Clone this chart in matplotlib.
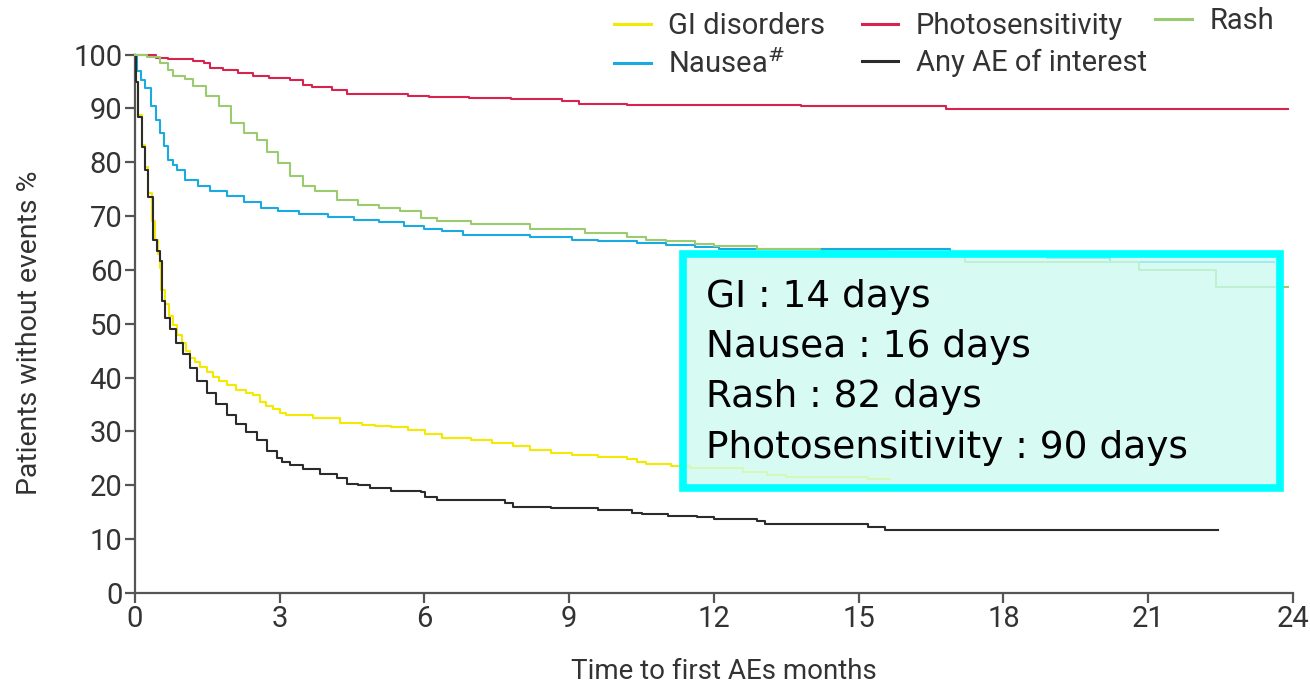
import matplotlib
matplotlib.use("Agg")
import matplotlib.pyplot as plt
from matplotlib.patches import Rectangle

# Kaplan-Meier style curves (months, % without events)
gi_t = [0, 0.02, 0.07, 0.14, 0.21, 0.28, 0.35, 0.41, 0.48, 0.52, 0.55, 0.62, 0.70, 0.79, 0.88,
        0.97, 1.05, 1.14, 1.25, 1.35, 1.5, 1.62, 1.75, 1.9, 2.1, 2.3, 2.45, 2.59, 2.72, 2.87,
        3.0, 3.14, 3.7, 4.25, 4.7, 4.97, 5.31, 5.66, 6.01, 6.36, 6.97, 7.4, 7.84, 8.19, 8.63,
        9.06, 9.59, 10.2, 10.4, 10.6, 11.1, 11.5, 12.6, 13.1, 13.5, 15.2, 15.65]
gi_v = [100, 95, 88.8, 83.2, 79.2, 74.2, 69.0, 65.6, 63.0, 60.3, 56.3, 53.7, 51.5, 49.7, 48.0,
        46.4, 45.0, 43.7, 42.8, 42.0, 41.0, 40.1, 39.4, 38.7, 37.7, 37.2, 36.7, 35.4, 34.7, 34.1,
        33.5, 33.1, 32.5, 31.6, 31.2, 31.0, 30.8, 30.3, 29.6, 28.8, 28.4, 27.8, 27.2, 26.6, 26.0,
        25.7, 25.3, 24.9, 24.4, 23.9, 23.5, 23.2, 22.5, 21.9, 21.6, 21.2, 21.2]

any_t = [0, 0.02, 0.07, 0.14, 0.21, 0.28, 0.38, 0.45, 0.52, 0.57, 0.62, 0.73, 0.86, 1.0, 1.14,
         1.28, 1.49, 1.69, 1.9, 2.1, 2.31, 2.52, 2.73, 2.94, 3.05, 3.22, 3.48, 3.83, 4.18, 4.39,
         4.62, 4.87, 5.31, 5.93, 6.01, 6.27, 7.67, 7.84, 8.63, 9.59, 10.3, 10.5, 11.05, 11.65,
         12.0, 12.9, 13.05, 15.2, 15.55, 22.45]
any_v = [100, 95, 88.5, 82.9, 78.6, 73.6, 65.6, 63.5, 61.6, 54.3, 51.0, 49.0, 46.4, 44.4, 41.7,
         39.4, 37.1, 35.1, 33.1, 31.4, 29.8, 28.4, 26.4, 25.1, 24.4, 23.8, 23.0, 22.0, 21.3, 20.3,
         20.0, 19.5, 19.0, 18.8, 17.9, 17.2, 16.7, 16.0, 15.7, 15.3, 14.9, 14.6, 14.2, 14.0,
         13.7, 13.3, 12.8, 12.3, 11.7, 11.7]

nausea_t = [0, 0.05, 0.12, 0.21, 0.34, 0.43, 0.52, 0.6, 0.69, 0.78, 0.87, 1.04, 1.3, 1.56, 1.91,
            2.26, 2.61, 2.96, 3.4, 4.0, 4.53, 5.05, 5.58, 6.0, 6.36, 6.8, 8.19, 9.06, 9.6, 10.4,
            11.0, 11.6, 12.1, 16.9, 18.9, 20.2, 23.6]
nausea_v = [100, 97, 95.3, 93.8, 90.4, 87.9, 85.5, 83, 80.5, 79.5, 78.6, 76.8, 75.5, 74.6, 73.7,
            72.7, 71.5, 70.9, 70.3, 69.9, 69.3, 68.9, 68.1, 67.6, 67.2, 66.5, 66.2, 65.6, 65.3, 65.0,
            64.6, 64.3, 63.9, 63.4, 62.3, 61.5, 61.5]

rash_t = [0, 0.25, 0.52, 0.69, 0.78, 1.04, 1.21, 1.47, 1.74, 2.0, 2.26, 2.52, 2.74, 2.96, 3.22,
          3.48, 3.74, 4.18, 4.62, 5.05, 5.49, 5.93, 6.27, 6.97, 8.19, 9.33, 10.2, 10.6, 11.0, 11.6,
          12.0, 12.9, 14.2, 15.6, 17.2, 20.8, 22.4, 23.9]
rash_v = [100, 99.5, 98.5, 97.2, 96, 95.4, 94.1, 92.3, 90.4, 87.3, 85.5, 84.2, 82, 79.9, 77.4,
          75.5, 74.6, 73, 72.1, 71.5, 70.9, 69.7, 69, 68.6, 67.6, 66.9, 66.2, 65.6, 65.3, 64.9,
          64.4, 63.9, 63.6, 62.5, 61.5, 60.0, 56.9, 56.9]

photo_t = [0, 0.43, 0.69, 1.21, 1.43, 1.56, 1.83, 2.13, 2.44, 2.78, 3.22, 3.48, 3.66, 4.09, 4.4,
           5.66, 6.1, 6.93, 7.8, 8.85, 9.2, 10.2, 13.8, 16.8, 23.9]
photo_v = [100, 99.4, 99.1, 98.9, 98.5, 97.5, 97.1, 96.5, 96.1, 95.6, 95.2, 94.4, 93.9, 93.5, 92.75,
           92.4, 92.1, 91.9, 91.8, 91.3, 90.9, 90.6, 90.4, 89.9, 89.9]

box_lines = ["GI : 14 days", "Nausea : 16 days", "Rash : 82 days", "Photosensitivity : 90 days"]

x_ticks = list(range(0, 25, 3))
y_ticks = list(range(0, 101, 10))

axis_font = ["Roboto", "DejaVu Sans"]
grey = "#333333"

fig = plt.figure(figsize=(13.1, 6.83), dpi=100)
ax = fig.add_axes([0.103, 0.132, 0.884, 0.788])

lw = 1.5
l_gi, = ax.step(gi_t, gi_v, where="post", color="#F4EA00", lw=lw, label="GI disorders", clip_on=False, zorder=3)
l_na, = ax.step(nausea_t, nausea_v, where="post", color="#1AAAE2", lw=lw, label=r"Nausea$^{\#}$", clip_on=False, zorder=3)
l_ph, = ax.step(photo_t, photo_v, where="post", color="#D8234E", lw=lw, label="Photosensitivity", clip_on=False, zorder=3)
l_any, = ax.step(any_t, any_v, where="post", color="#2B2B2B", lw=lw, label="Any AE of interest", clip_on=False, zorder=3)
l_ra, = ax.step(rash_t, rash_v, where="post", color="#9ACB6E", lw=lw, label="Rash", clip_on=False, zorder=3)

ax.set_xlim(0, 24)
ax.set_ylim(0, 100)
ax.set_xticks(x_ticks)
ax.set_yticks(y_ticks)
for s in ["top", "right"]:
    ax.spines[s].set_visible(False)
for s in ["left", "bottom"]:
    ax.spines[s].set_color("#555555")
    ax.spines[s].set_linewidth(1.6)
ax.tick_params(direction="out", length=7, width=1.6, color="#555555", labelcolor=grey,
               labelsize=21, pad=2)
for lab in ax.get_xticklabels() + ax.get_yticklabels():
    lab.set_family(axis_font)

ax.set_xlabel("Time to first AEs months", fontsize=20, color=grey, family=axis_font)
ax.set_ylabel("Patients without events %", fontsize=20.5, color=grey, family=axis_font)
ax.xaxis.set_label_coords(0.509, -0.121)
ax.yaxis.set_label_coords(-0.079, 0.483)

# median time annotation box
ax.add_patch(Rectangle((0.473, 0.195), 0.516, 0.435, transform=ax.transAxes,
                       facecolor="#CCFBF0", alpha=0.78, edgecolor="none", zorder=4, clip_on=False))
ax.add_patch(Rectangle((0.473, 0.195), 0.516, 0.435, transform=ax.transAxes,
                       facecolor="none", edgecolor="#00FFFF", lw=5.5, zorder=5, clip_on=False))
for i, line in enumerate(box_lines):
    ax.text(0.493, 0.550 - i * 0.0935, line, transform=ax.transAxes, fontsize=27,
            family="DejaVu Sans", color="black", va="center", ha="left", zorder=6)

leg_kw = dict(frameon=False, prop={"family": axis_font, "size": 21}, handlelength=1.25,
              handletextpad=0.6, labelspacing=0.3, labelcolor=grey, borderpad=0, borderaxespad=0)
leg = fig.legend(handles=[l_gi, l_na, l_ph, l_any], loc="upper left", bbox_to_anchor=(0.469, 0.982),
                 ncol=2, columnspacing=1.25, **leg_kw)
leg2 = fig.legend(handles=[l_ra], loc="upper left", bbox_to_anchor=(0.882, 0.99), **leg_kw)
for lg in (leg, leg2):
    for h in lg.get_lines():
        h.set_linewidth(2.2)

fig.savefig("out.png", dpi=100)
